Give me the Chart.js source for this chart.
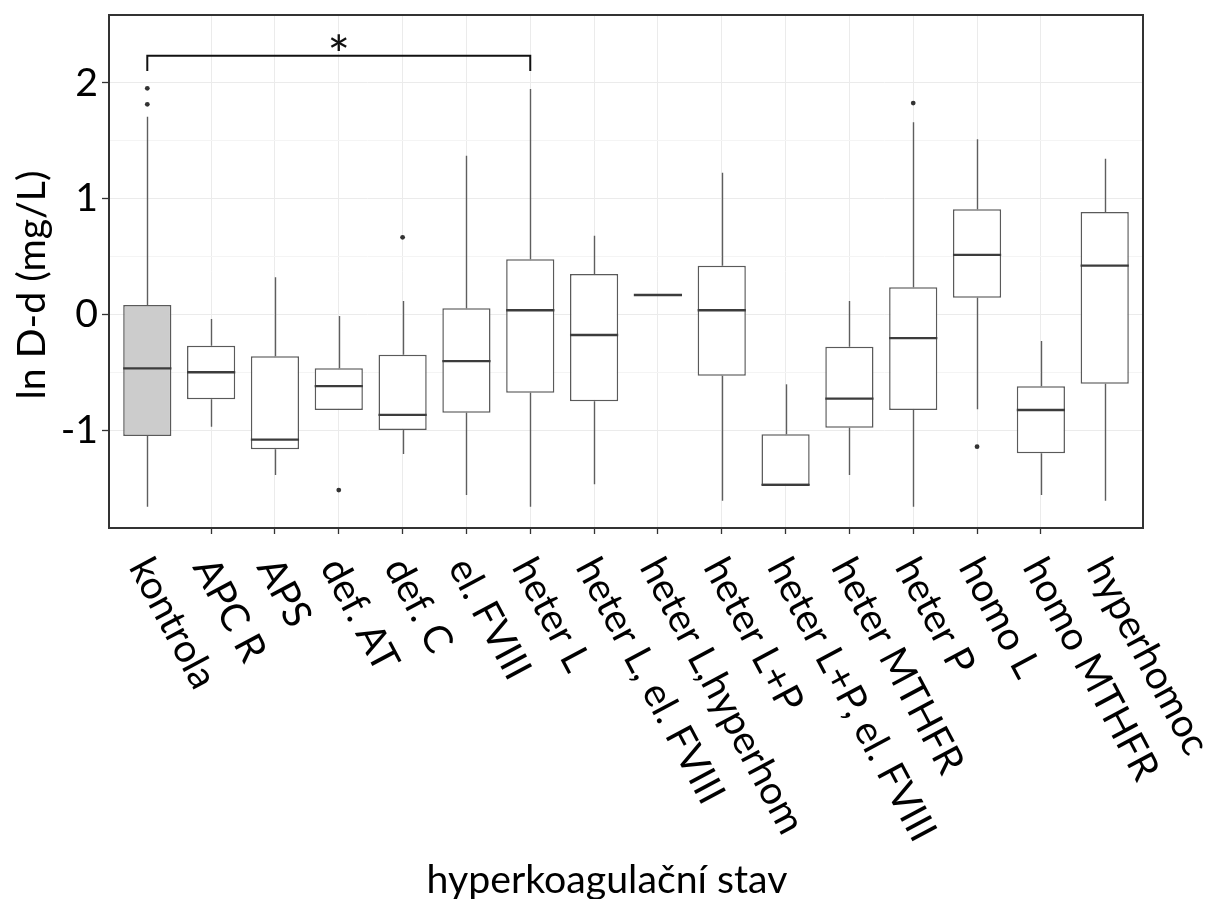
<!DOCTYPE html>
<html>
<head>
<meta charset="utf-8">
<script src="https://cdn.jsdelivr.net/npm/chart.js@4.4.1/dist/chart.umd.min.js"></script>
<style>
html, body { margin: 0; padding: 0; background: #ffffff; }
canvas { display: block; }
</style>
</head>
<body>
<canvas id="c" width="1206" height="899"></canvas>
<script>
// ---------------- data ----------------
const categories = ['kontrola', 'APC R', 'APS', 'def. AT', 'def. C', 'el. FVIII', 'heter L',
  'heter L, el. FVIII', 'heter L,hyperhom', 'heter L+P', 'heter L+P, el. FVIII',
  'heter MTHFR', 'heter P', 'homo L', 'homo MTHFR', 'hyperhomoc'];

const whiskerLow  = [-1.663, -0.971, -1.389, -0.827, -1.207, -1.562, -1.663, -1.469, 0.167, -1.611, -1.475, -1.389, -1.663, -0.821, -1.562, -1.611];
const q1          = [-1.052, -0.735, -1.167, -0.827, -1.000, -0.850, -0.678, -0.752, 0.167, -0.531, -1.475, -0.980, -0.827,  0.143, -1.201, -0.600];
const median      = [-0.467, -0.501, -1.084, -0.620, -0.870, -0.404,  0.035, -0.179, 0.167,  0.035, -1.475, -0.729, -0.205,  0.513, -0.827,  0.420];
const q3          = [ 0.080, -0.271, -0.363, -0.467, -0.349,  0.052,  0.475,  0.348, 0.167,  0.420, -1.037, -0.280,  0.233,  0.907, -0.622,  0.884];
const whiskerHigh = [ 1.708, -0.041,  0.320, -0.015,  0.115,  1.371,  1.947,  0.679, 0.167,  1.224, -0.605,  0.115,  1.659,  1.512, -0.231,  1.345];

const outlierCategory = ['kontrola', 'kontrola', 'def. AT', 'def. C', 'heter P', 'homo L'];
const outlierValue    = [1.953, 1.815, -1.519, 0.665, 1.826, -1.144];

const yTickValues = [-1, 0, 1, 2];
const yMin = -1.847, yMax = 2.587;

const sigFrom = 'kontrola', sigTo = 'heter L', sigLevel = 2.235, sigTip = 2.103, sigLabel = '*';

const xTitle = 'hyperkoagulační stav';
const yTitle = 'ln D-d (mg/L)';

// ---------------- styling ----------------
const FONT_FAMILY = 'Lato, "Open Sans", sans-serif';
function fitFontSize() {
  const c = document.createElement('canvas').getContext('2d');
  c.font = '40px ' + FONT_FAMILY;
  const w = c.measureText(xTitle).width;
  return 40 * 361 / w;
}
const FS = fitFontSize();
const isInt = v => Math.abs(v - Math.round(v)) < 1e-9;

const boxData = categories.map((c, i) => ({ x: i, y: [q1[i], q3[i]] }));
const outlierData = outlierValue.map((v, k) => ({ x: categories.indexOf(outlierCategory[k]), y: v }));

const boxPlugin = {
  id: 'boxParts',
  afterDatasetsDraw(chart) {
    const ctx = chart.ctx;
    const xs = chart.scales.x, ys = chart.scales.y;
    const meta = chart.getDatasetMeta(0);
    ctx.save();
    ctx.beginPath();
    ctx.rect(chart.chartArea.left, chart.chartArea.top, chart.chartArea.right - chart.chartArea.left, chart.chartArea.bottom - chart.chartArea.top);
    ctx.clip();
    // whiskers
    ctx.strokeStyle = '#5e5e5e';
    ctx.lineWidth = 1.4;
    categories.forEach((c, i) => {
      const x = Math.round(xs.getPixelForValue(i)) + 0.5;
      ctx.beginPath();
      ctx.moveTo(x, ys.getPixelForValue(q3[i]));
      ctx.lineTo(x, ys.getPixelForValue(whiskerHigh[i]));
      ctx.moveTo(x, ys.getPixelForValue(q1[i]));
      ctx.lineTo(x, ys.getPixelForValue(whiskerLow[i]));
      ctx.stroke();
    });
    // medians
    ctx.strokeStyle = '#3c3c3c';
    ctx.lineWidth = 2.3;
    categories.forEach((c, i) => {
      const el = meta.data[i];
      const y = ys.getPixelForValue(median[i]);
      ctx.beginPath();
      ctx.moveTo(el.x - el.width / 2, y);
      ctx.lineTo(el.x + el.width / 2, y);
      ctx.stroke();
    });
    ctx.restore();
  },
  afterDraw(chart) {
    const ctx = chart.ctx;
    const a = chart.chartArea;
    const xs = chart.scales.x, ys = chart.scales.y;
    ctx.save();
    // panel border
    ctx.strokeStyle = '#333333';
    ctx.lineWidth = 2;
    ctx.strokeRect(a.left, a.top, a.right - a.left, a.bottom - a.top);

    // significance bracket
    const x0 = xs.getPixelForValue(categories.indexOf(sigFrom));
    const x1 = xs.getPixelForValue(categories.indexOf(sigTo));
    const yl = ys.getPixelForValue(sigLevel), yt = ys.getPixelForValue(sigTip);
    ctx.strokeStyle = '#111111';
    ctx.lineWidth = 2;
    ctx.beginPath();
    ctx.moveTo(x0, yt); ctx.lineTo(x0, yl); ctx.lineTo(x1, yl); ctx.lineTo(x1, yt);
    ctx.stroke();
    ctx.fillStyle = '#111111';
    ctx.font = (FS * 1.35) + 'px ' + FONT_FAMILY;
    ctx.textAlign = 'center';
    ctx.textBaseline = 'alphabetic';
    ctx.fillText(sigLabel, (x0 + x1) / 2, yl + 18);

    // rotated category labels
    ctx.font = FS + 'px ' + FONT_FAMILY;
    ctx.fillStyle = '#000000';
    ctx.textAlign = 'left';
    ctx.textBaseline = 'alphabetic';
    categories.forEach((lab, i) => {
      const x = xs.getPixelForValue(i);
      ctx.save();
      ctx.translate(x - 19, a.bottom + 39);
      ctx.rotate(62 * Math.PI / 180);
      ctx.fillText(lab, 0, 0);
      ctx.restore();
    });

    // axis titles
    ctx.textAlign = 'center';
    ctx.fillText(xTitle, 607, 893);
    ctx.save();
    ctx.translate(32, 285);
    ctx.rotate(-Math.PI / 2);
    ctx.textBaseline = 'middle';
    ctx.fillText(yTitle, 0, 0);
    ctx.restore();
    ctx.restore();
  }
};

new Chart(document.getElementById('c'), {
  type: 'bar',
  data: {
    datasets: [
      {
        type: 'bar',
        data: boxData,
        backgroundColor: ctx => ctx.dataIndex === 0 ? '#cccccc' : '#ffffff',
        borderColor: '#5a5a5a',
        borderWidth: 1.5,
        borderSkipped: false,
        barPercentage: 0.755,
        categoryPercentage: 1.0,
        order: 2
      },
      {
        type: 'scatter',
        data: outlierData,
        pointRadius: 2.4,
        pointBackgroundColor: '#333333',
        pointBorderWidth: 0,
        showLine: false,
        order: 1
      }
    ]
  },
  options: {
    responsive: false,
    animation: false,
    devicePixelRatio: 1,
    layout: { padding: { left: 0, right: 63, top: 15, bottom: 0 } },
    plugins: { legend: { display: false }, tooltip: { enabled: false }, title: { display: false } },
    scales: {
      x: {
        type: 'linear',
        offset: false,
        min: -0.6,
        max: categories.length - 0.4,
        afterBuildTicks: s => { s.ticks = s.ticks.filter(t => isInt(t.value) && t.value >= 0 && t.value < categories.length); },
        afterFit: s => { s.height = 371; s.paddingLeft = 0; s.paddingRight = 0; s.paddingTop = 0; s.paddingBottom = 0; },
        ticks: { display: false, stepSize: 1 },
        grid: { offset: false, color: '#ebebeb', lineWidth: 1, tickColor: '#333333', tickLength: 6, tickWidth: 1.3 },
        border: { display: false }
      },
      y: {
        type: 'linear',
        min: yMin,
        max: yMax,
        afterBuildTicks: s => { s.ticks = s.ticks.filter(t => isInt(t.value * 2) && t.value >= -1.5 - 1e-9 && t.value <= 2 + 1e-9); },
        afterFit: s => { s.width = 109; s.paddingLeft = 0; s.paddingRight = 0; s.paddingTop = 0; s.paddingBottom = 0; },
        ticks: {
          stepSize: 0.5,
          padding: 4,
          color: '#000000',
          font: { family: FONT_FAMILY, size: FS },
          callback: v => (yTickValues.some(t => Math.abs(t - v) < 1e-9) ? String(Math.round(v)) : '')
        },
        grid: {
          color: c => isInt(c.tick.value) ? '#ebebeb' : '#f4f4f4',
          lineWidth: 1,
          tickColor: c => isInt(c.tick.value) ? '#333333' : 'rgba(0,0,0,0)',
          tickLength: 7,
          tickWidth: 1.3
        },
        border: { display: false }
      }
    }
  },
  plugins: [boxPlugin]
});
</script>
</body>
</html>
